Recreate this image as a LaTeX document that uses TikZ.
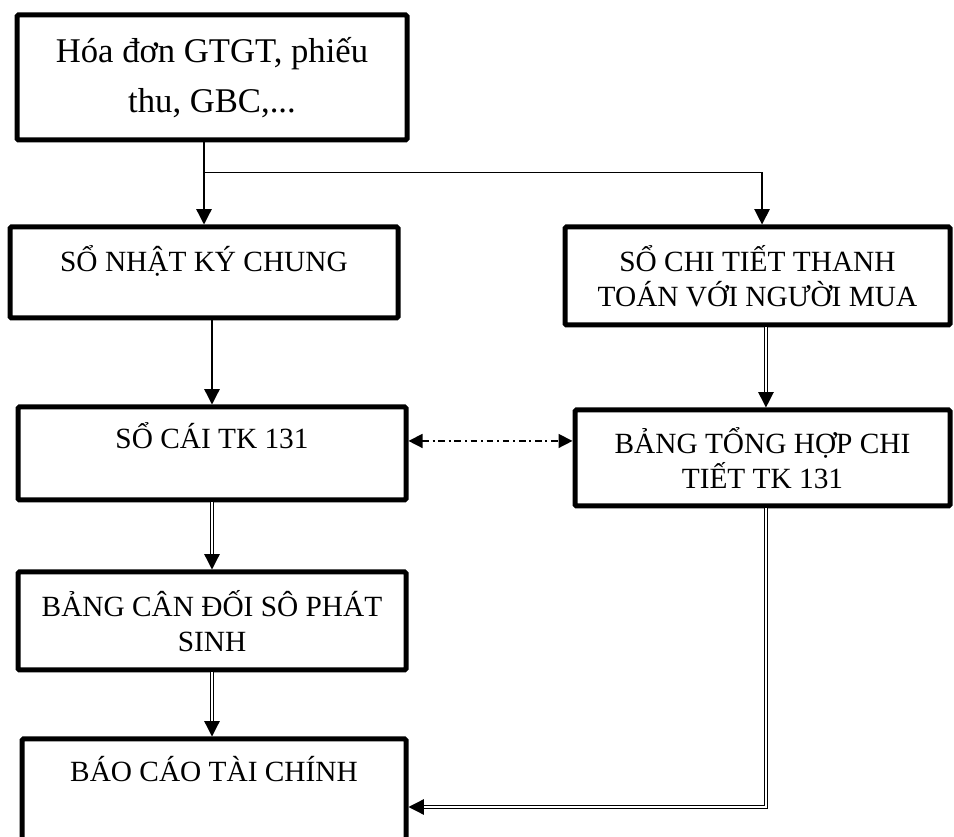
\documentclass[tikz,border=0pt]{standalone}
\usepackage{fontspec}
\setmainfont{Liberation Serif}
\usetikzlibrary{arrows.meta}
\begin{document}
\begin{tikzpicture}[x=0.75pt,y=-0.75pt,
  box/.style={draw, line width=3.75pt, rounded corners=1pt, align=center,
    inner sep=0pt, font=\fontsize{22}{26.4}\selectfont},
  flow/.style={line width=1pt, -{Triangle[length=11.5pt,width=11.5pt]}},
  dflow/.style={double, line width=0.95pt, double distance=1.6pt,
    -{Triangle[length=11.5pt,width=11.5pt]}},
  link/.style={line width=1.1pt, dash pattern=on 5pt off 2.8pt on 1.5pt off 2.8pt,
    {Triangle[length=10.5pt,width=10.5pt]}-{Triangle[length=10.5pt,width=10.5pt]}}]
\useasboundingbox (0,0) rectangle (954,837);
\clip (0,0) rectangle (954,837);

% source documents
\node[box, minimum width=292.5pt, minimum height=93.75pt,
  font=\fontsize{26}{37.5}\selectfont] (b1) at (212,77.5)
  {Hóa đơn GTGT, phiếu\\thu, GBC,...};

% journals and ledgers
\node[box, minimum width=291pt, minimum height=68.25pt] (b2) at (204,272.5)
  {SỔ NHẬT KÝ CHUNG\\[-6pt]\mbox{}};
\node[box, minimum width=288.75pt, minimum height=73.5pt] (b3) at (757.5,276)
  {SỔ CHI TIẾT THANH\\TOÁN VỚI NGƯỜI MUA};
\node[box, minimum width=291pt, minimum height=69.75pt] (b4) at (212,453.5)
  {SỔ CÁI TK 131\\[0pt]\mbox{}};
\node[box, minimum width=281.25pt, minimum height=72pt] (b5) at (762.5,458)
  {BẢNG TỔNG HỢP CHI\\TIẾT TK 131};
\node[box, minimum width=291pt, minimum height=73.5pt] (b6) at (212,621)
  {BẢNG CÂN ĐỐI SÔ PHÁT\\SINH};
\node[box, minimum width=288pt, minimum height=102pt] (b7) at (214,807)
  {BÁO CÁO TÀI CHÍNH\\[30.5pt]\mbox{}};

% connectors
\draw[flow] (b1.south -| b2.north) -- (b2.north);
\draw[flow] (b1.south -| b2.north) ++(0,30) -| ([xshift=3.4pt]b3.north);
\draw[flow] (b2.south -| b4.north) -- (b4.north);
\draw[dflow] ([xshift=2.6pt]b3.south -| b5.north) -- ([xshift=2.6pt]b5.north);
\draw[link] ([yshift=9.4pt]b4.east) -- ([yshift=9.4pt]b4.east -| b5.west);
\draw[dflow] (b4.south) -- (b6.north);
\draw[dflow] (b6.south) -- (b6.south |- b7.north);
\draw[dflow] ([xshift=2.6pt]b5.south) |- (b7.east);
\end{tikzpicture}
\end{document}
